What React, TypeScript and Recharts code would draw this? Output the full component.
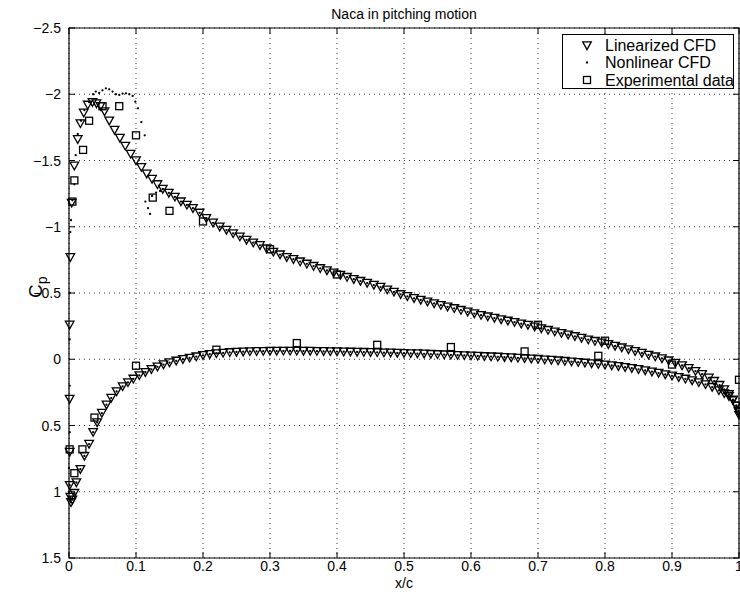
import React from 'react'
import {
  ScatterChart, Scatter, XAxis, YAxis, CartesianGrid, ReferenceArea, ReferenceLine,
} from 'recharts'

// pressure coefficient along the chord, [x/c, Cp]
const linearUpper: [number, number][] = [
  [0.001, 0.7], [0.001, 0.3], [0.001, -0.26], [0.002, -0.77], [0.004, -1.18], [0.008, -1.46],
  [0.013, -1.66], [0.017, -1.78], [0.022, -1.86], [0.028, -1.92], [0.035, -1.94], [0.041, -1.93],
  [0.047, -1.91], [0.053, -1.87], [0.06, -1.8], [0.068, -1.73], [0.076, -1.67], [0.084, -1.61],
  [0.092, -1.55], [0.1, -1.5], [0.108, -1.45], [0.116, -1.4], [0.124, -1.36], [0.132, -1.32],
  [0.14, -1.285], [0.149, -1.255], [0.158, -1.225], [0.167, -1.19], [0.176, -1.165], [0.185, -1.14],
  [0.195, -1.105], [0.205, -1.065], [0.215, -1.03], [0.225, -1.0], [0.235, -0.975], [0.245, -0.95],
  [0.255, -0.925], [0.265, -0.9], [0.275, -0.88], [0.285, -0.86], [0.295, -0.835], [0.305, -0.81],
  [0.315, -0.79], [0.325, -0.77], [0.335, -0.755], [0.345, -0.737], [0.355, -0.72], [0.365, -0.703],
  [0.375, -0.686], [0.385, -0.67], [0.395, -0.653], [0.405, -0.636], [0.415, -0.62], [0.425, -0.604],
  [0.435, -0.59], [0.445, -0.575], [0.455, -0.56], [0.465, -0.545], [0.475, -0.525], [0.485, -0.508],
  [0.495, -0.49], [0.505, -0.475], [0.515, -0.46], [0.525, -0.447], [0.535, -0.434], [0.545, -0.421],
  [0.555, -0.408], [0.565, -0.396], [0.575, -0.384], [0.585, -0.371], [0.595, -0.358], [0.605, -0.345],
  [0.615, -0.333], [0.625, -0.322], [0.635, -0.311], [0.645, -0.3], [0.655, -0.29], [0.665, -0.28],
  [0.675, -0.268], [0.685, -0.258], [0.695, -0.245], [0.705, -0.232], [0.715, -0.22], [0.725, -0.208],
  [0.735, -0.197], [0.745, -0.185], [0.755, -0.173], [0.765, -0.16], [0.775, -0.148], [0.785, -0.137],
  [0.795, -0.125], [0.805, -0.113], [0.815, -0.1], [0.825, -0.088], [0.835, -0.074], [0.845, -0.06],
  [0.855, -0.047], [0.865, -0.033], [0.875, -0.02], [0.885, -0.006], [0.895, 0.01], [0.905, 0.028],
  [0.915, 0.047], [0.925, 0.068], [0.935, 0.09], [0.945, 0.113], [0.955, 0.14], [0.963, 0.165],
  [0.971, 0.195], [0.978, 0.228], [0.985, 0.265], [0.991, 0.305], [0.996, 0.35], [0.999, 0.39],
  [1.0, 0.42],
]

const linearLower: [number, number][] = [
  [0.001, 0.95], [0.002, 1.04], [0.003, 1.08], [0.005, 1.06], [0.008, 1.01], [0.011, 0.93],
  [0.017, 0.83], [0.023, 0.73], [0.03, 0.64], [0.036, 0.55], [0.042, 0.477], [0.049, 0.406],
  [0.056, 0.343], [0.063, 0.293], [0.071, 0.243], [0.08, 0.205], [0.088, 0.175], [0.096, 0.148],
  [0.105, 0.122], [0.114, 0.098], [0.123, 0.076], [0.132, 0.057], [0.141, 0.04], [0.15, 0.025],
  [0.16, 0.012], [0.17, 0.0], [0.18, -0.01], [0.19, -0.02], [0.2, -0.03], [0.21, -0.038],
  [0.22, -0.044], [0.23, -0.048], [0.24, -0.052], [0.25, -0.055], [0.26, -0.057], [0.27, -0.059],
  [0.28, -0.06], [0.29, -0.061], [0.3, -0.062], [0.31, -0.062], [0.32, -0.063], [0.33, -0.063],
  [0.34, -0.063], [0.35, -0.062], [0.36, -0.062], [0.37, -0.061], [0.38, -0.06], [0.39, -0.059],
  [0.4, -0.058], [0.41, -0.057], [0.42, -0.056], [0.43, -0.055], [0.44, -0.054], [0.45, -0.053],
  [0.46, -0.052], [0.47, -0.05], [0.48, -0.049], [0.49, -0.047], [0.5, -0.046], [0.51, -0.044],
  [0.52, -0.043], [0.53, -0.041], [0.54, -0.039], [0.55, -0.037], [0.56, -0.035], [0.57, -0.033],
  [0.58, -0.031], [0.59, -0.029], [0.6, -0.027], [0.61, -0.025], [0.62, -0.022], [0.63, -0.02],
  [0.64, -0.018], [0.65, -0.015], [0.66, -0.013], [0.67, -0.01], [0.68, -0.007], [0.69, -0.004],
  [0.7, -0.001], [0.71, 0.003], [0.72, 0.006], [0.73, 0.01], [0.74, 0.014], [0.75, 0.018],
  [0.76, 0.022], [0.77, 0.027], [0.78, 0.032], [0.79, 0.037], [0.8, 0.042], [0.81, 0.047],
  [0.82, 0.053], [0.83, 0.06], [0.84, 0.068], [0.85, 0.076], [0.86, 0.085], [0.87, 0.094],
  [0.88, 0.104], [0.89, 0.115], [0.9, 0.125], [0.91, 0.136], [0.92, 0.148], [0.93, 0.16],
  [0.94, 0.175], [0.95, 0.19], [0.96, 0.21], [0.97, 0.235], [0.978, 0.258], [0.985, 0.28],
  [0.991, 0.31], [0.996, 0.35], [1.0, 0.4],
]

// nonlinear solution differs only near the leading edge (suction peak + shock)
const nonlinearLeadingEdge: [number, number][] = [
  [0.0, 1.0], [0.0, 0.82], [0.001, 0.55], [0.001, 0.2], [0.001, -0.15], [0.001, -0.5],
  [0.002, -0.96], [0.003, -1.05], [0.005, -1.2], [0.008, -1.32], [0.01, -1.54], [0.013, -1.7],
  [0.018, -1.8], [0.023, -1.88], [0.03, -1.94], [0.036, -2.0], [0.04, -2.02], [0.045, -2.01],
  [0.05, -2.03], [0.055, -2.045], [0.06, -2.037], [0.065, -2.02], [0.07, -2.0], [0.075, -1.995],
  [0.08, -2.005], [0.085, -2.007], [0.09, -2.0], [0.095, -1.987], [0.099, -1.944], [0.103, -1.894],
  [0.108, -1.79], [0.113, -1.69], [0.114, -1.19], [0.118, -1.14], [0.121, -1.097], [0.124, -1.233],
  [0.13, -1.258], [0.136, -1.27],
]

const experimentalUpper: [number, number][] = [
  [0.005, -1.19], [0.008, -1.35], [0.021, -1.58], [0.03, -1.8], [0.05, -1.91], [0.075, -1.91],
  [0.1, -1.69], [0.125, -1.22], [0.15, -1.12], [0.2, -1.04], [0.3, -0.83], [0.4, -0.64],
  [0.7, -0.26], [0.8, -0.14], [0.9, 0.04], [1.0, 0.155],
]

const experimentalLower: [number, number][] = [
  [0.001, 0.68], [0.008, 0.86], [0.02, 0.68], [0.038, 0.44], [0.1, 0.049], [0.22, -0.072],
  [0.34, -0.122], [0.46, -0.109], [0.57, -0.092], [0.68, -0.059], [0.79, -0.026],
]

const xTicks = [0, 0.1, 0.2, 0.3, 0.4, 0.5, 0.6, 0.7, 0.8, 0.9, 1]
const yTicks = [-2.5, -2, -1.5, -1, -0.5, 0, 0.5, 1, 1.5]

const toPts = (arr: [number, number][]) => arr.map(([x, cp]) => ({ x, cp }))

const linearPts = toPts([...linearUpper, ...linearLower])
const nonlinearPts = toPts([
  ...nonlinearLeadingEdge,
  ...linearUpper.filter(([x]) => x >= 0.14),
  ...linearLower,
])
const experimentalPts = toPts([...experimentalUpper, ...experimentalLower])

const FONT = '"Liberation Sans", Arial, Helvetica, sans-serif'

const Triangle = (p: any) => (
  <path
    d={`M${p.cx - 4.3},${p.cy - 3.6} L${p.cx + 4.3},${p.cy - 3.6} L${p.cx},${p.cy + 4.1} Z`}
    fill="none" stroke="#000" strokeWidth={1.3}
  />
)
const Dot = (p: any) => <circle cx={p.cx} cy={p.cy} r={1.15} fill="#000" />
const Square = (p: any) => (
  <rect x={p.cx - 3.5} y={p.cy - 3.5} width={7} height={7} fill="none" stroke="#000" strokeWidth={1.3} />
)

const fmt = (v: number) => (v < 0 ? `\u2212${Math.abs(v)}` : `${v}`)

const XTick = (p: any) => (
  <text x={p.x} y={p.y} dy={5} textAnchor="middle" fontSize={14} fill="#000" fontFamily={FONT}>
    {fmt(p.payload.value)}
  </text>
)
const YTick = (p: any) => (
  <text x={p.x} y={p.y} dy={5} textAnchor="end" fontSize={14} fill="#000" fontFamily={FONT}>
    {fmt(p.payload.value)}
  </text>
)

export default function App() {
  return (
    <div style={{ position: 'absolute', left: 0, top: 0, width: 740, height: 592, background: '#fff', fontFamily: FONT }}>
      <ScatterChart width={740} height={592} margin={{ top: 28, right: 1, bottom: 0, left: 0 }}>
        <CartesianGrid stroke="#000" strokeDasharray="1 4" strokeWidth={0.8} />
        <XAxis
          type="number" dataKey="x" domain={[0, 1]} ticks={xTicks} interval={0}
          height={34} axisLine={false} tickLine={false} tick={XTick}
        />
        <YAxis
          type="number" dataKey="cp" domain={[-2.5, 1.5]} ticks={yTicks} interval={0} reversed
          width={69} axisLine={false} tickLine={false} tick={YTick}
        />
        {xTicks.map((t) => (
          <ReferenceLine key={`b${t}`} segment={[{ x: t, y: 1.5 }, { x: t, y: 1.455 }]} stroke="#000" />
        ))}
        {xTicks.map((t) => (
          <ReferenceLine key={`t${t}`} segment={[{ x: t, y: -2.5 }, { x: t, y: -2.455 }]} stroke="#000" />
        ))}
        {yTicks.map((t) => (
          <ReferenceLine key={`l${t}`} segment={[{ x: 0, y: t }, { x: 0.009, y: t }]} stroke="#000" />
        ))}
        {yTicks.map((t) => (
          <ReferenceLine key={`r${t}`} segment={[{ x: 1, y: t }, { x: 0.991, y: t }]} stroke="#000" />
        ))}
        <ReferenceArea x1={0} x2={1} y1={-2.5} y2={1.5} fill="none" stroke="#000" strokeWidth={1.2} />
        <Scatter data={linearPts} shape={Triangle} isAnimationActive={false} />
        <Scatter data={nonlinearPts} shape={Dot} isAnimationActive={false} />
        <Scatter data={experimentalPts} shape={Square} isAnimationActive={false} />
      </ScatterChart>

      <svg width={740} height={592} style={{ position: 'absolute', left: 0, top: 0, pointerEvents: 'none' }}>
        <text x={404} y={19} textAnchor="middle" fontSize={14} fontFamily={FONT}>Naca in pitching motion</text>
        <text x={404} y={588} textAnchor="middle" fontSize={14} fontFamily={FONT}>x/c</text>
        <text transform="translate(42,298) rotate(-90)" fontSize={19} fontFamily={FONT}>
          C<tspan fontSize={14} dy={5}>p</tspan>
        </text>
        <rect x={562.5} y={34.5} width={171} height={54} fill="#fff" stroke="#000" />
        <Triangle cx={587} cy={45.5} />
        <Dot cx={587} cy={62.5} />
        <Square cx={587} cy={80} />
        <text x={605} y={51} fontSize={16} fontFamily={FONT}>Linearized CFD</text>
        <text x={605} y={68} fontSize={16} fontFamily={FONT}>Nonlinear CFD</text>
        <text x={605} y={85.5} fontSize={16} fontFamily={FONT}>Experimental data</text>
      </svg>
    </div>
  )
}
